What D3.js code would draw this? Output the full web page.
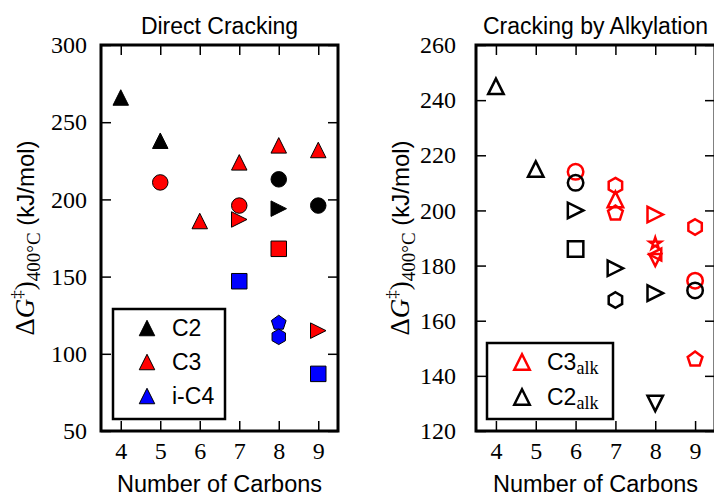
<!DOCTYPE html>
<html>
<head>
<meta charset="utf-8">
<script src="https://cdn.jsdelivr.net/npm/d3@7"></script>
<style>
  body { margin: 0; background: #fff; }
  svg { display: block; }
</style>
</head>
<body>
<svg id="chart"></svg>
<script>
// data (kJ/mol at 400 C)
const carbonTicks = [4, 5, 6, 7, 8, 9];
const directTicks = [50, 100, 150, 200, 250, 300];
const alkTicks = [120, 140, 160, 180, 200, 220, 240, 260];

const directC2 = [
  {n: 4, dg: 266, shape: "up"},
  {n: 5, dg: 238, shape: "up"},
  {n: 8, dg: 213, shape: "circle"},
  {n: 8, dg: 194, shape: "right"},
  {n: 9, dg: 196, shape: "circle"}
];
const directC3 = [
  {n: 5, dg: 211, shape: "circle"},
  {n: 6, dg: 186, shape: "up"},
  {n: 7, dg: 224, shape: "up"},
  {n: 7, dg: 196, shape: "circle"},
  {n: 7, dg: 187, shape: "right"},
  {n: 8, dg: 235, shape: "up"},
  {n: 8, dg: 168, shape: "square"},
  {n: 9, dg: 232, shape: "up"},
  {n: 9, dg: 115, shape: "right"}
];
const directIC4 = [
  {n: 7, dg: 147, shape: "square"},
  {n: 8, dg: 120, shape: "pentagon"},
  {n: 8, dg: 111, shape: "hexagon"},
  {n: 9, dg: 87, shape: "square"}
];
const alkC3 = [
  {n: 6, dg: 214, shape: "circle"},
  {n: 7, dg: 209, shape: "hexagon"},
  {n: 7, dg: 204, shape: "up"},
  {n: 7, dg: 199, shape: "pentagon"},
  {n: 8, dg: 198.5, shape: "right"},
  {n: 8, dg: 188, shape: "star"},
  {n: 8, dg: 184, shape: "left"},
  {n: 8, dg: 182, shape: "down"},
  {n: 9, dg: 194, shape: "hexagon"},
  {n: 9, dg: 174.5, shape: "circle"},
  {n: 9, dg: 146, shape: "pentagon"}
];
const alkC2 = [
  {n: 4, dg: 245, shape: "up"},
  {n: 5, dg: 215, shape: "up"},
  {n: 6, dg: 210, shape: "circle"},
  {n: 6, dg: 200, shape: "right"},
  {n: 6, dg: 186, shape: "square"},
  {n: 7, dg: 179, shape: "right"},
  {n: 7, dg: 167.5, shape: "hexagon"},
  {n: 8, dg: 170, shape: "right"},
  {n: 8, dg: 130, shape: "down"},
  {n: 9, dg: 171, shape: "circle"}
];

const width = 714;
const height = 497;
const svg = d3.select("svg#chart").attr("width", width).attr("height", height);

const sans = "'Liberation Sans', Arial, sans-serif";
const serif = "'Liberation Serif', 'Times New Roman', serif";

// matplotlib-like marker outlines, centred on 0,0
function markerPath(shape, size) {
  const r = size / 2;
  const poly = (n, rad, inner) => {
    const pts = [];
    const k = inner ? n * 2 : n;
    for (let i = 0; i < k; i++) {
      const a = -Math.PI / 2 + Math.PI * 2 * i / k;
      const rr = inner && i % 2 ? rad * inner : rad;
      pts.push([rr * Math.cos(a), rr * Math.sin(a)]);
    }
    return "M" + pts.map(p => p.join(",")).join("L") + "Z";
  };
  switch (shape) {
    case "circle": {
      const p = d3.path();
      p.arc(0, 0, r, 0, Math.PI * 2);
      p.closePath();
      return p.toString();
    }
    case "up": return `M0,${-r}L${-r},${r}L${r},${r}Z`;
    case "down": return `M0,${r}L${-r},${-r}L${r},${-r}Z`;
    case "right": return `M${r},0L${-r},${-r}L${-r},${r}Z`;
    case "left": return `M${-r},0L${r},${-r}L${r},${r}Z`;
    case "square": return `M${-r},${-r}h${size}v${size}h${-size}Z`;
    case "pentagon": return poly(5, r);
    case "hexagon": return poly(6, r);
    case "star": return poly(5, r, 0.381966);
  }
}

const x = d3.scaleLinear().domain([3.5, 9.5]);

function panel(opts) {
  const xs = x.copy().range([opts.left, opts.right]);
  const ys = d3.scaleLinear().domain(opts.ydomain).range([431, 45]);
  const g = svg.append("g").attr("class", "panel");

  // ticks on all four sides, pointing in
  g.append("g")
    .attr("transform", "translate(0,431)")
    .call(d3.axisBottom(xs).tickValues(carbonTicks).tickSize(-10).tickPadding(11).tickFormat(d3.format("d")))
    .call(a => a.select(".domain").remove());
  g.append("g")
    .attr("transform", "translate(0,45)")
    .call(d3.axisTop(xs).tickValues(carbonTicks).tickSize(-10).tickFormat(""))
    .call(a => a.select(".domain").remove());
  g.append("g")
    .attr("transform", `translate(${opts.left},0)`)
    .call(d3.axisLeft(ys).tickValues(opts.yticks).tickSize(-10).tickPadding(opts.ypad).tickFormat(d3.format("d")))
    .call(a => a.select(".domain").remove());
  g.append("g")
    .attr("transform", `translate(${opts.right},0)`)
    .call(d3.axisRight(ys).tickValues(opts.yticks).tickSize(-10).tickFormat(""))
    .call(a => a.select(".domain").remove());

  g.selectAll(".tick line").attr("stroke", "#000").attr("stroke-width", 1.5);
  g.selectAll(".tick text").attr("font-family", serif).attr("font-size", 24).attr("fill", "#000");

  // series
  opts.series.forEach(s => {
    g.append("g").selectAll("path")
      .data(s.data)
      .join("path")
        .attr("transform", d => `translate(${xs(d.n)},${ys(d.dg)})`)
        .attr("d", d => markerPath(d.shape, s.small && ["star", "left", "down"].includes(d.shape) ? 12 : 15.5))
        .attr("fill", s.fill)
        .attr("stroke", s.stroke)
        .attr("stroke-width", s.sw)
        .attr("stroke-linejoin", "miter");
  });

  // frame
  g.append("rect")
    .attr("x", opts.left).attr("y", 45)
    .attr("width", opts.right - opts.left).attr("height", 386)
    .attr("fill", "none").attr("stroke", "#000").attr("stroke-width", 3);

  // title and x label
  const cx = (opts.left + opts.right) / 2;
  g.append("text").attr("x", cx).attr("y", 34)
    .attr("text-anchor", "middle").attr("font-family", sans).attr("font-size", 23)
    .text(opts.title);
  g.append("text").attr("x", cx).attr("y", 492)
    .attr("text-anchor", "middle").attr("font-family", sans).attr("font-size", 23.5)
    .text("Number of Carbons");

  // y label: ΔG‡)_400°C (kJ/mol)
  const yl = g.append("text")
    .attr("transform", `translate(${opts.ylabelX},238) rotate(-90)`)
    .attr("text-anchor", "middle").attr("font-size", 24);
  yl.append("tspan").attr("font-family", serif).attr("font-size", 27).text("Δ");
  yl.append("tspan").attr("font-family", serif).attr("font-size", 27).attr("font-style", "italic").text("G");
  yl.append("tspan").attr("font-family", serif).attr("font-size", 17).attr("dy", -11).text("‡");
  yl.append("tspan").attr("font-family", serif).attr("font-size", 27).attr("dy", 11).text(")");
  yl.append("tspan").attr("font-family", serif).attr("font-size", 19).attr("dy", 6).text("400°C");
  yl.append("tspan").attr("font-family", sans).attr("dy", -6).text(" (kJ/mol)");

  // legend
  const L = opts.legend;
  const lg = g.append("g");
  lg.append("rect")
    .attr("x", L.x).attr("y", L.y).attr("width", L.w).attr("height", L.h)
    .attr("fill", "#fff").attr("stroke", "#000").attr("stroke-width", 2.5);
  L.items.forEach((it, i) => {
    const yy = L.rowY[i];
    lg.append("path")
      .attr("transform", `translate(${L.mx},${yy})`)
      .attr("d", markerPath("up", 15.5))
      .attr("fill", it.fill).attr("stroke", it.stroke).attr("stroke-width", it.sw);
    const t = lg.append("text").attr("x", L.tx).attr("y", yy + 8)
      .attr("font-family", sans).attr("font-size", 23).text(it.label);
    if (it.sub) {
      t.append("tspan").attr("font-family", serif).attr("font-size", 18).attr("dy", 4).text(it.sub);
    }
  });
}

// Direct cracking panel
panel({
  left: 101, right: 338,
  ydomain: [50, 300], yticks: directTicks, ypad: 14,
  title: "Direct Cracking", ylabelX: 34,
  series: [
    {data: directC2, fill: "#000", stroke: "#000", sw: 1},
    {data: directC3, fill: "#ff0000", stroke: "#000", sw: 1},
    {data: directIC4, fill: "#0000ff", stroke: "#000", sw: 1}
  ],
  legend: {
    x: 113, y: 309, w: 112, h: 110, mx: 147, tx: 172, rowY: [328, 362, 396],
    items: [
      {label: "C2", fill: "#000", stroke: "#000", sw: 1},
      {label: "C3", fill: "#ff0000", stroke: "#000", sw: 1},
      {label: "i-C4", fill: "#0000ff", stroke: "#000", sw: 1}
    ]
  }
});

// Cracking by alkylation panel
panel({
  left: 476, right: 715,
  ydomain: [120, 260], yticks: alkTicks, ypad: 20,
  title: "Cracking by Alkylation", ylabelX: 409,
  series: [
    {data: alkC3, fill: "none", stroke: "#ff0000", sw: 2.5, small: true},
    {data: alkC2, fill: "none", stroke: "#000", sw: 2.5}
  ],
  legend: {
    x: 487, y: 343, w: 126, h: 76, mx: 522, tx: 547, rowY: [362, 397],
    items: [
      {label: "C3", sub: "alk", fill: "none", stroke: "#ff0000", sw: 2.5},
      {label: "C2", sub: "alk", fill: "none", stroke: "#000", sw: 2.5}
    ]
  }
});
</script>
</body>
</html>
